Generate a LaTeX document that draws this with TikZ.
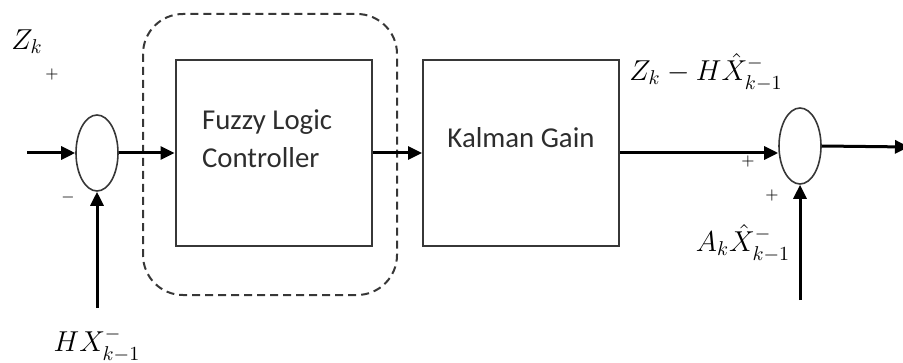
\documentclass[tikz,border=0pt]{standalone}
\usepackage{fontspec}
\setmainfont{Carlito}
\usepackage{amsmath}
\usetikzlibrary{arrows.meta}
\usetikzlibrary{shapes.geometric}
\usetikzlibrary{positioning}
\definecolor{linegray}{RGB}{55, 55, 55}
\definecolor{textgray}{RGB}{45, 45, 45}

\tikzset{
  block/.style={draw=linegray, line width=1pt, minimum width=98pt, minimum height=93pt, inner sep=0pt},
  sumnode/.style={draw=linegray, ellipse, line width=0.8pt, minimum width=21pt, minimum height=38pt, inner sep=0pt},
  sig/.style={line width=1.5pt, -{Triangle[length=7pt,width=6.5pt]}},
  sgn/.style={font=\footnotesize, inner sep=0pt},
  blocktext/.style={text=textgray, align=left, font=\fontsize{14.4}{19}\selectfont},
}

\begin{document}
\begin{tikzpicture}[x=0.5pt, y=-0.5pt, font=\fontsize{14.4}{19}\selectfont]
  \useasboundingbox (0,0) rectangle (903,363);
  % blocks and summing junctions
  \node[sumnode] (sumL) at ( 97, 153) {};
  \node[block]   (flc)  at (273.5, 153) {};
  \node[block]   (kg)   at (521, 153) {};
  \node[sumnode] (sumR) at (800, 146) {};
  \draw[linegray, line width=1pt, dash pattern=on 4pt off 2.5pt, rounded corners=20pt]
       (143, 14) rectangle (397, 295);
  \node[blocktext, anchor=west] (flctext) at (195, 139) {Fuzzy Logic\\Controller};
  \node[blocktext] (kgtext) at (521, 138) {Kalman Gain};
  % free ends
  \coordinate (inL) at ( 27, 153);
  \coordinate (fbL) at ( 97, 308);
  \coordinate (fbR) at (800, 300);
  \coordinate (out) at (909, 147);
  % signals
  \draw[sig] (inL) -- (sumL.west);
  \draw[sig] (fbL) -- (sumL.south);
  \draw[sig] (sumL.east) -- (flc.west);
  \draw[sig] (flc.east) -- (kg.west);
  \draw[sig] (kg.east) -- (kg.east -| sumR.west);
  \draw[sig] (fbR) -- (sumR.south);
  \draw[sig] (sumR.east) -- (out);
  % labels
  \node (zk)    at ( 27,  42) {$Z_k$};
  \node[sgn] (pL)  at ( 52,  75) {$+$};
  \node[sgn] (mL)  at ( 68, 197) {$-$};
  \node (hx)    at ( 97, 345) {$HX^-_{k-1}$};
  \node (innov) at (706,  72) {$Z_k-H\hat{X}^-_{k-1}$};
  \node[sgn] (pR1) at (748, 162) {$+$};
  \node[sgn] (pR2) at (772, 195) {$+$};
  \node (ax)    at (743, 243) {$A_k\hat{X}^-_{k-1}$};
\end{tikzpicture}
\end{document}
